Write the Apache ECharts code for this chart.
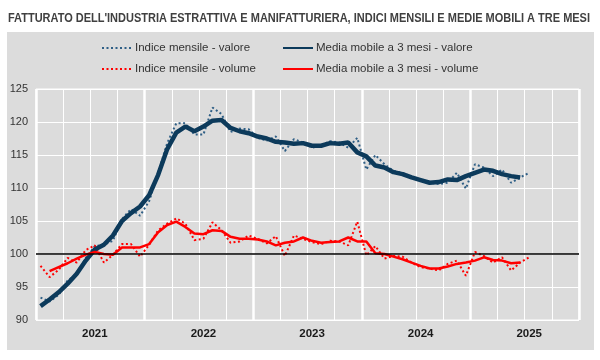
<!DOCTYPE html>
<html>
<head>
<meta charset="utf-8">
<script src="https://cdn.jsdelivr.net/npm/echarts@6/dist/echarts.min.js"></script>
<style>
html,body{margin:0;padding:0;background:#ffffff;}
#chart{width:600px;height:360px;}
</style>
</head>
<body>
<div id="chart"></div>
<script>
// ---- data ----
var years = ['2021', '2022', '2023', '2024', '2025'];
var months = ['01','02','03','04','05','06','07','08','09','10','11','12'];
var yTicks = [90, 95, 100, 105, 110, 115, 120, 125];

var indiceValore = [93.4, 92.8, 93.8, 96.0, 96.9, 99.4, 101.2, 101.4, 102.0, 105.3, 106.8, 105.8,
  108.0, 112.3, 116.8, 119.8, 119.8, 118.1, 118.1, 122.2, 121.2, 118.5, 119.0, 118.9,
  117.6, 117.2, 117.8, 115.6, 117.4, 116.9, 116.1, 116.4, 117.1, 116.9, 116.1, 117.6,
  112.8, 115.0, 113.6, 112.6, 112.3, 111.7, 111.2, 110.8, 110.6, 110.8, 112.3, 109.9,
  113.6, 113.1, 111.8, 112.8, 110.8, 111.6, 112.3];
var mediaValore = [92.1, 93.1, 94.2, 95.5, 97.0, 99.0, 100.7, 101.4, 102.8, 105.0, 106.2, 107.2,
  108.9, 112.0, 115.9, 118.4, 119.3, 118.6, 119.3, 120.2, 120.3, 119.1, 118.6, 118.3,
  117.8, 117.5, 117.0, 116.9, 116.7, 116.8, 116.4, 116.4, 116.8, 116.7, 116.9, 115.4,
  114.8, 113.4, 113.1, 112.4, 112.1, 111.6, 111.2, 110.8, 110.9, 111.3, 111.2, 111.8,
  112.3, 112.8, 112.6, 112.1, 111.8, 111.6];
var indiceVolume = [98.2, 96.5, 97.6, 99.4, 98.7, 100.6, 101.3, 98.7, 99.9, 101.5, 101.5, 99.6,
  101.4, 103.6, 104.6, 105.4, 104.6, 102.1, 102.3, 104.8, 103.6, 101.7, 101.9, 102.8,
  102.3, 101.6, 102.7, 99.7, 102.8, 102.3, 101.8, 101.5, 102.0, 101.9, 101.3, 104.9,
  99.8, 101.2, 99.3, 99.7, 99.6, 98.7, 98.0, 97.8, 97.5, 98.5, 99.0, 96.7,
  100.3, 99.7, 98.7, 99.5, 97.5, 98.7, 99.5];
var mediaVolume = [null, 97.4, 98.0, 98.6, 99.3, 99.9, 100.3, 100.0, 99.9, 101.0, 101.0, 101.0,
  101.5, 103.3, 104.4, 104.9, 104.1, 103.1, 103.0, 103.6, 103.5, 102.6, 102.3, 102.3,
  102.2, 101.9, 101.3, 101.7, 101.9, 102.5, 102.0, 101.7, 101.8, 101.9, 102.5, 101.9,
  101.9, 100.1, 100.0, 99.6, 99.2, 98.7, 98.2, 97.8, 97.8, 98.1, 98.5, 98.7,
  99.0, 99.5, 99.1, 99.0, 98.6, 98.7];

var names = ['Indice mensile - valore', 'Media mobile a 3 mesi - valore',
             'Indice mensile - volume', 'Media mobile a 3 mesi - volume'];
var titleText = "FATTURATO DELL'INDUSTRIA ESTRATTIVA E MANIFATTURIERA, INDICI MENSILI E MEDIE MOBILI A TRE MESI";

// ---- build ----
var categories = [];
years.forEach(function (y) { months.forEach(function (m) { categories.push(y + '-' + m); }); });

var FONT = "'Liberation Sans', Arial, sans-serif";
var BG = '#DCDCDC';
var C_BLUE_DOT = '#2F5F86';
var C_BLUE = '#0C3A5B';
var C_RED = '#FF0000';

// fit title into the reference width (condensed look)
var titleFont = "bold 13px 'Liberation Sans', Arial, sans-serif";
var cv = document.createElement('canvas').getContext('2d');
cv.font = titleFont;
var titleW = cv.measureText(titleText).width;
var titleScale = 582 / titleW;

var chart = echarts.init(document.getElementById('chart'), null, {renderer: 'canvas'});

function legend(name, left, top) {
  return {
    data: [name], left: left, top: top, orient: 'horizontal',
    itemWidth: 30, itemHeight: 10, itemGap: 4, padding: 0,
    selectedMode: false,
    itemStyle: {opacity: 0},
    textStyle: {fontFamily: FONT, fontSize: 11.5, color: '#333333', padding: [0, 0, 0, -2]}
  };
}

var option = {
  backgroundColor: '#ffffff',
  animation: false,
  graphic: [{
    type: 'rect', z: -10, silent: true,
    shape: {x: 7, y: 32, width: 587, height: 318},
    style: {fill: BG}
  }, {
    type: 'text', silent: true, x: 299, y: 18, scaleX: titleScale, scaleY: 1,
    style: {text: titleText, font: titleFont, fill: '#404040', align: 'center', verticalAlign: 'middle'}
  }],
  legend: [
    legend(names[0], 101, 42),
    legend(names[1], 282, 42),
    legend(names[2], 101, 63),
    legend(names[3], 282, 63)
  ],
  grid: {left: 36, right: 21, top: 89, bottom: 40, show: true, backgroundColor: BG,
         borderColor: '#ffffff', borderWidth: 1},
  xAxis: [{
    type: 'category', data: categories, boundaryGap: true,
    axisLine: {show: false}, axisTick: {show: false},
    axisLabel: {show: false},
    splitLine: {show: true, interval: function (i) { return i % 3 === 0; },
                lineStyle: {color: '#ffffff', width: 1}}
  }, {
    type: 'category', data: categories, boundaryGap: true, position: 'bottom',
    axisLine: {show: false}, axisTick: {show: false},
    axisLabel: {
      show: true, interval: function (i) { return i % 12 === 6; },
      formatter: function (v) { return v.slice(0, 4); },
      fontFamily: FONT, fontSize: 11.5, fontWeight: 'bold', color: '#1a1a1a', margin: 8
    },
    splitLine: {show: true, interval: function (i) { return i % 12 === 0; },
                lineStyle: {color: '#ffffff', width: 2.5}}
  }],
  yAxis: {
    type: 'value', min: yTicks[0], max: yTicks[yTicks.length - 1], interval: 5,
    axisLine: {show: false}, axisTick: {show: false},
    axisLabel: {fontFamily: FONT, fontSize: 11, color: '#333333', margin: 8},
    splitLine: {show: true, lineStyle: {color: '#ffffff', width: 1}}
  },
  series: [{
    name: names[0], type: 'line', data: indiceValore, symbol: 'none', z: 3,
    lineStyle: {color: C_BLUE_DOT, width: 2, type: [2, 2.5]}, itemStyle: {color: C_BLUE_DOT},
    markLine: {
      silent: true, symbol: 'none', label: {show: false},
      lineStyle: {color: '#000000', width: 1.5, type: 'solid'},
      data: [{yAxis: 100}]
    }
  }, {
    name: names[1], type: 'line', data: mediaValore, symbol: 'none', z: 4,
    lineStyle: {color: C_BLUE, width: 4.5}, itemStyle: {color: C_BLUE}
  }, {
    name: names[2], type: 'line', data: indiceVolume, symbol: 'none', z: 3,
    lineStyle: {color: C_RED, width: 2, type: [2, 2.5]}, itemStyle: {color: C_RED}
  }, {
    name: names[3], type: 'line', data: mediaVolume, symbol: 'none', z: 4,
    lineStyle: {color: C_RED, width: 2.5}, itemStyle: {color: C_RED}
  }]
};
chart.setOption(option);
</script>
</body>
</html>
